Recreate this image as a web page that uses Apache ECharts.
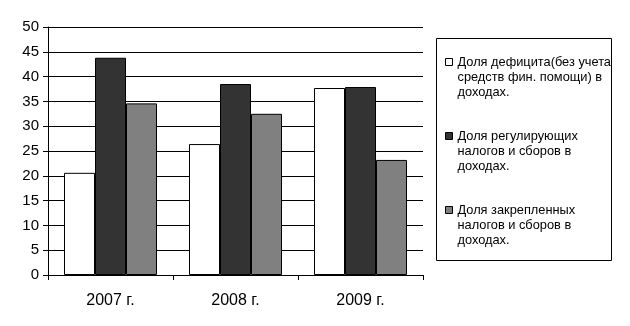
<!DOCTYPE html>
<html>
<head>
<meta charset="utf-8">
<script src="https://cdn.jsdelivr.net/npm/echarts@6/dist/echarts.min.js"></script>
<style>
  html, body { margin: 0; padding: 0; background: #fff; }
  #chart { width: 630px; height: 326px; }
</style>
</head>
<body>
<div id="chart"></div>
<script>
// Years on the category axis
const years = ['2007 г.', '2008 г.', '2009 г.'];

// Series names (legend text, with line breaks)
const seriesNames = [
  'Доля дефицита(без учета\nсредств фин. помощи) в\nдоходах.',
  'Доля регулирующих\nналогов и сборов в\nдоходах.',
  'Доля закрепленных\nналогов и сборов в\nдоходах.'
];

// Shares in revenue, %
const deficitShare = [20.6, 26.4, 37.7];
const regulatingShare = [43.8, 38.5, 37.9];
const fixedShare = [34.6, 32.5, 23.2];

// Value axis ticks
const yTicks = { min: 0, max: 50, interval: 5 };

const colors = ['#ffffff', '#333333', '#808080'];
const font = 'Liberation Sans, Arial, sans-serif';
const legendLine = 15.3;

const chart = echarts.init(document.getElementById('chart'), null, { renderer: 'canvas' });

const values = [deficitShare, regulatingShare, fixedShare];

chart.setOption({
  animation: false,
  backgroundColor: '#ffffff',
  grid: { left: 48, right: 207, top: 27, bottom: 51, containLabel: false },
  xAxis: {
    type: 'category',
    data: years,
    axisLine: { show: true, lineStyle: { color: '#000', width: 1 } },
    axisTick: { show: true, length: 5, lineStyle: { color: '#000' } },
    axisLabel: { color: '#000', fontFamily: font, fontSize: 16, margin: 18 },
    splitLine: { show: false }
  },
  yAxis: {
    type: 'value',
    min: yTicks.min,
    max: yTicks.max,
    interval: yTicks.interval,
    axisLine: { show: true, lineStyle: { color: '#000', width: 1 } },
    axisTick: { show: true, length: 5, lineStyle: { color: '#000' } },
    axisLabel: { color: '#000', fontFamily: font, fontSize: 15, margin: 9 },
    splitLine: { show: true, lineStyle: { color: '#000', width: 1 } }
  },
  // Frame around the legend
  graphic: [{
    type: 'rect',
    shape: { x: 436.5, y: 38.5, width: 175, height: 222 },
    style: { fill: 'none', stroke: '#000', lineWidth: 1 },
    silent: true
  }],
  legend: {
    orient: 'vertical',
    left: 445,
    // the two leading blank lines keep the marker beside the first text line
    top: 62 - legendLine * 2.5,
    padding: 0,
    itemGap: 74 - legendLine * 5,
    itemWidth: 7,
    itemHeight: 7,
    icon: 'rect',
    selectedMode: false,
    formatter: function (name) { return '\n\n' + name; },
    textStyle: {
      color: '#000',
      fontFamily: font,
      fontSize: 12.8,
      lineHeight: legendLine
    },
    data: seriesNames.map(function (n) {
      return { name: n, itemStyle: { borderColor: '#000', borderWidth: 1 } };
    })
  },
  series: seriesNames.map(function (name, i) {
    return {
      name: name,
      type: 'bar',
      data: values[i],
      barGap: '0%',
      barCategoryGap: '25.6%',
      itemStyle: { color: colors[i], borderColor: '#000', borderWidth: 1 }
    };
  })
});
</script>
</body>
</html>
